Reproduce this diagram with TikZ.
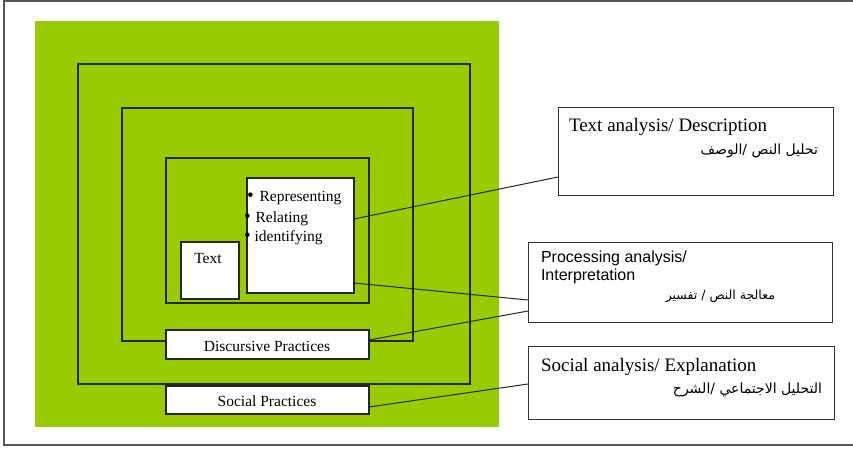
\documentclass[tikz,border=0pt]{standalone}
\usepackage{fontspec}
\setmainfont{Liberation Serif}
\newfontfamily\sansf{Liberation Sans}
\newfontfamily\arabicfont[Script=Arabic]{DejaVu Sans}
\TeXXeTstate=1
\definecolor{leaf}{HTML}{99CC00}
\definecolor{framegray}{HTML}{555555}
\newcommand{\fsz}[1]{\fontsize{#1}{#1}\selectfont}
\newcommand{\bigbul}{{\fsz{19}\textbullet}}
\begin{document}
\begin{tikzpicture}[x=1pt,y=-1pt,
  every node/.style={inner sep=0pt,outer sep=0pt},
  frame/.style={draw=black!85,line width=1.2pt,anchor=north west},
  wbox/.style={frame,fill=white},
  rbox/.style={draw=black!80,line width=1pt,fill=white,anchor=north west},
  conn/.style={draw=black!85,line width=1pt},
  ser/.style={font=\fsz{15.5}},
  ttl/.style={font=\fsz{19}},
  sans/.style={font=\sansf\fsz{16}},
  arab/.style={font=\arabicfont\fsz{14}}]
\useasboundingbox (0,0) rectangle (853,449);
\fill[white] (0,0) rectangle (853,449);
\draw[framegray,line width=1.6pt] (853,1) -- (4,1) -- (4,445) -- (853,445);
% green background
\node[fill=leaf,anchor=north west,minimum width=464pt,minimum height=406pt] (bg) at (35,21) {};
% nested frames
\node[frame,minimum width=392pt,minimum height=320pt] (f1) at (78,64) {};
\node[frame,minimum width=291pt,minimum height=233pt] (f2) at (122,108) {};
\node[frame,minimum width=203pt,minimum height=145pt] (f3) at (166,158) {};
% white boxes
\node[wbox,minimum width=58pt,minimum height=57pt] (textbox) at (181,242) {};
\node[wbox,minimum width=107pt,minimum height=115pt] (bul) at (247,178) {};
\node[wbox,minimum width=203pt,minimum height=29pt] (disc) at (166,330) {};
\node[wbox,minimum width=203pt,minimum height=28pt] (soc) at (166,386) {};
% right boxes
\node[rbox,minimum width=275pt,minimum height=87pt] (ta) at (558,108) {};
\node[rbox,minimum width=304pt,minimum height=80pt] (pa) at (528,242) {};
\node[rbox,minimum width=306pt,minimum height=73pt] (sa) at (528,346) {};
% connectors
\draw[conn] (bul.east |- 0,219) -- (ta.west |- 0,177);
\draw[conn] (bul.east |- 0,283) -- (pa.west |- 0,300);
\draw[conn] (disc.east |- 0,340) -- (pa.west |- 0,311);
\draw[conn] (soc.east |- 0,407) -- (sa.west |- 0,384);
% texts in the left part
\node[ser,anchor=base] (ttext) at (208,263) {Text};
\node[ser,anchor=base west] (b1) at (247,201) {\bigbul\hspace{6pt}Representing};
\node[ser,anchor=base west] (b2) at (244,222) {\bigbul\hspace{5pt}Relating};
\node[ser,anchor=base west] (b3) at (244,241) {\bigbul\hspace{4pt}identifying};
\node[ser,anchor=base] (tdisc) at (267,351) {Discursive Practices};
\node[ser,anchor=base] (tsoc) at (267,406) {Social Practices};
% texts in the right boxes
\node[ttl,anchor=base west] (tat) at (569,132) {Text analysis/ Description};
\node[arab,anchor=east] (taa) at (818,151) {\beginR تحليل النص /الوصف\endR};
\node[sans,anchor=base west] (pat1) at (541,262) {Processing analysis/};
\node[sans,anchor=base west] (pat2) at (541,280) {Interpretation};
\node[arab,font=\arabicfont\fsz{12.5},anchor=east] (paa) at (775,296) {\beginR معالجة النص / تفسير\endR};
\node[ttl,anchor=base west] (sat) at (541,371) {Social analysis/ Explanation};
\node[arab,anchor=east] (saa) at (822,390) {\beginR التحليل الاجتماعي /الشرح\endR};
\end{tikzpicture}
\end{document}
